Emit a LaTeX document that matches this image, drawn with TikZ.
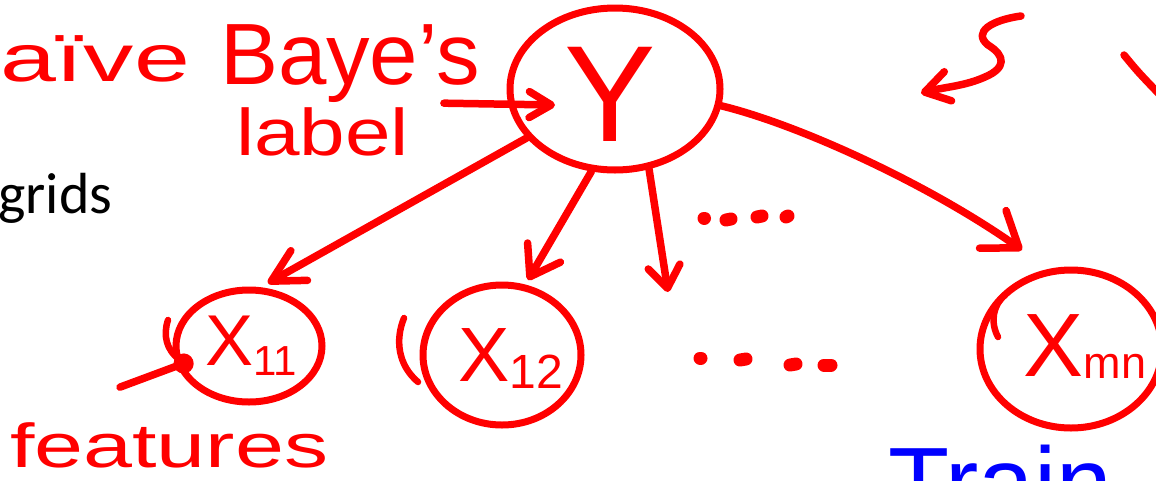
\documentclass[tikz,border=0pt]{standalone}
\usepackage{fontspec}
\setmainfont{Liberation Sans}
\newfontfamily\slidefont{Carlito}
\usetikzlibrary{arrows.meta,shapes.geometric,calc}
\begin{document}
\begin{tikzpicture}[x=1pt,y=-1pt,
  ink/.style={draw=red, line width=7.5pt, line cap=round, line join=round},
  thin ink/.style={draw=red, line width=6.5pt, line cap=round, line join=round},
  bubble/.style={ellipse, draw=red, line width=7pt, inner sep=0pt},
  hw/.style={text=red, inner sep=0pt, outer sep=0pt},
  dotmark/.style={draw=red, line width=13pt, line cap=round}
]
\useasboundingbox (0,0) rectangle (1156,480);
\clip (0,0) rectangle (1156,480);
\fill[white] (0,0) rectangle (1156,480);

% slide text
\node[anchor=base west, inner sep=0pt, font=\slidefont\fontsize{58}{58}\selectfont] (grids) at (-2,213) {grids};

% handwritten words
\node[hw, anchor=base west, font=\fontsize{67}{67}\selectfont] (naive) at (0,81) {\scalebox{1.5}[1]{aïve}};
\node[hw, anchor=base west, font=\fontsize{87}{87}\selectfont] (bayes) at (220,84) {Baye’s};
\node[hw, anchor=base west, font=\fontsize{66}{66}\selectfont] (label) at (236,155) {\scalebox{1.24}[1]{label}};
\node[hw, anchor=base west, font=\fontsize{62}{62}\selectfont] (features) at (10,467) {\scalebox{1.42}[1]{features}};
\node[anchor=base west, inner sep=0pt, text=blue, font=\fontsize{100}{100}\selectfont] (train) at (888,517) {Train};

% bubbles
\node[bubble, minimum width=210pt, minimum height=162pt] (Y) at (615,89) {};
\node[hw, font=\fontsize{137}{137}\selectfont] (ylab) at ($(Y.center)+(-5,5)$) {Y};

\node[bubble, minimum width=146pt, minimum height=112pt] (x11) at (249,346) {};
\node[hw, font=\fontsize{72}{72}\selectfont] (x11lab) at ($(x11.center)+(2,0)$) {X\raisebox{-10pt}{\fontsize{42}{42}\selectfont 11}};

\node[bubble, minimum width=158pt, minimum height=140pt] (x12) at (502,355) {};
\node[hw, font=\fontsize{77}{77}\selectfont] (x12lab) at ($(x12.center)+(9,4)$) {X\raisebox{-7pt}{\fontsize{48}{48}\selectfont 12}};

\node[bubble, minimum width=182pt, minimum height=158pt] (xmn) at (1071,349) {};
\node[hw, font=\fontsize{90}{90}\selectfont] (xmnlab) at ($(xmn.center)+(14,-2)$) {X\raisebox{-2pt}{\fontsize{45}{45}\selectfont mn}};

% extra pen strokes on the bubbles
\draw[thin ink] (168,320) .. controls (163,335) and (166,350) .. (180,360);
\draw[thin ink] (404,318) .. controls (395,340) and (398,365) .. (418,382);
\draw[thin ink] (998,337) .. controls (990,322) and (993,305) .. (1005,295);

% free coordinates
\coordinate (mid) at (668,292);
\coordinate (s0) at (1021,16);
\coordinate (s1) at (921,93);

% arrows
\draw[ink, -{Straight Barb[length=22pt,width=26pt,round]}] ($(label.north east)+(35,-4)$) -- ($(Y.center)+(-60,16)$);
\draw[ink, -{Straight Barb[length=32pt,width=34pt,round]}] (Y.209) -- ($(x11.center)+(19,-63)$);
\draw[ink, -{Straight Barb[length=28pt,width=38pt,round]}] (Y.254) -- ($(x12.center)+(26,-75)$);
\draw[ink, -{Straight Barb[length=22pt,width=32pt,round]}] (Y.293) -- (mid);
\draw[ink, -{Straight Barb[length=32pt,width=46pt,round]}] (Y.351) .. controls (800,125) and (930,185) .. ($(xmn.center)+(-49,-99)$);
\draw[ink, -{Circle[length=20pt]}] ($(features.north west)+(110,-35)$) -- ($(x11.center)+(-56,14)$);

% S-shaped arrow
\draw[ink, -{Straight Barb[length=24pt,width=30pt,round]}] (s0) .. controls (992,20) and (972,32) .. (988,45)
  .. controls (1006,56) and (1006,68) .. (985,77)
  .. controls (965,86) and (945,87) .. (s1);

% partial stroke at right edge
\draw[ink] (1124,55) .. controls (1138,72) .. (1162,97);

% dots
\draw[dotmark] (704,218) -- (704.5,218);
\draw[dotmark] (726,220) -- (731,219);
\draw[dotmark] (757,217) -- (762,216);
\draw[dotmark] (786,217) -- (788,216);
\draw[dotmark] (700,358) -- (701,358);
\draw[dotmark] (740,360) -- (746,359);
\draw[dotmark] (790,365) -- (796,364);
\draw[dotmark] (824,365) -- (831,365);
\end{tikzpicture}
\end{document}
